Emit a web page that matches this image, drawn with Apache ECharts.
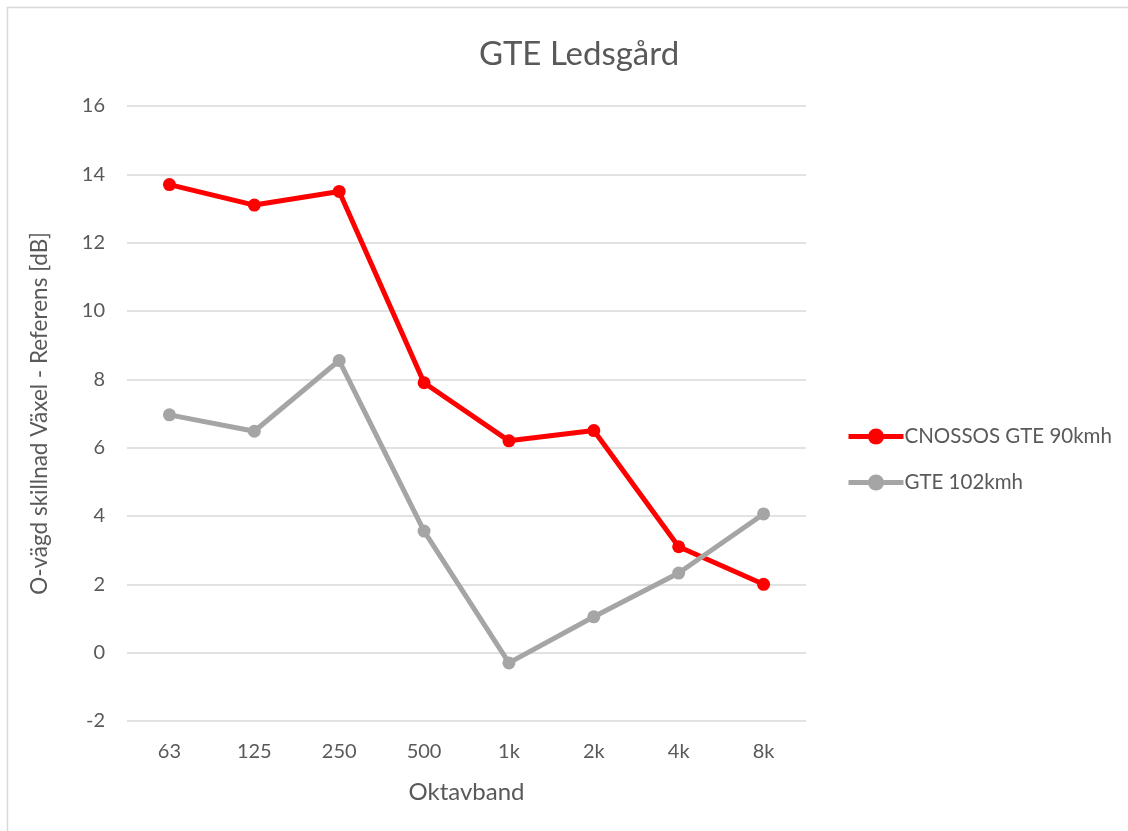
<!DOCTYPE html>
<html>
<head>
<meta charset="utf-8">
<script src="https://cdn.jsdelivr.net/npm/echarts@6/dist/echarts.min.js"></script>
<style>
  html, body { margin: 0; padding: 0; background: #fff; }
  #chart { width: 1128px; height: 831px; }
</style>
</head>
<body>
<div id="chart"></div>
<script>
// data
const bands = ['63', '125', '250', '500', '1k', '2k', '4k', '8k'];
const cnossos90 = [13.7, 13.1, 13.5, 7.9, 6.2, 6.5, 3.1, 2.0];
const gte102 = [6.96, 6.48, 8.55, 3.56, -0.3, 1.05, 2.33, 4.06];

const font = 'Lato, "Open Sans", sans-serif';
const textColor = '#595959';

const chart = echarts.init(document.getElementById('chart'));
chart.setOption({
  backgroundColor: '#fff',
  textStyle: { fontFamily: font },
  graphic: [{
    type: 'rect',
    shape: { x: 7.5, y: 7.5, width: 1200, height: 900 },
    style: { fill: 'none', stroke: '#d9d9d9', lineWidth: 1.5 },
    silent: true
  }],
  title: {
    text: 'GTE Ledsgård',
    left: 574,
    top: 33,
    textAlign: 'center',
    textStyle: { fontFamily: font, fontSize: 33, fontWeight: 'normal', color: textColor }
  },
  legend: {
    orient: 'vertical',
    left: 846,
    top: 426,
    padding: 0,
    itemGap: 25,
    itemWidth: 55,
    itemHeight: 20,
    lineStyle: { width: 5 },
    textStyle: { fontFamily: font, fontSize: 20.5, color: textColor, padding: [0, 0, 0, -4] },
    data: ['CNOSSOS GTE 90kmh', 'GTE 102kmh']
  },
  grid: { left: 127, right: 322, top: 106, bottom: 110 },
  xAxis: {
    type: 'category',
    data: bands,
    name: 'Oktavband',
    nameLocation: 'middle',
    nameGap: 59,
    nameTextStyle: { fontFamily: font, fontSize: 24, color: textColor },
    axisLine: { show: false },
    axisTick: { show: false },
    axisLabel: { fontFamily: font, fontSize: 20, color: textColor, margin: 21 }
  },
  yAxis: {
    type: 'value',
    min: -2,
    max: 16,
    interval: 2,
    name: 'O-vägd skillnad Växel - Referens [dB]',
    nameLocation: 'middle',
    nameGap: 76,
    nameTextStyle: { fontFamily: font, fontSize: 22.5, color: textColor },
    axisLabel: { fontFamily: font, fontSize: 20, color: textColor, margin: 22 },
    splitLine: { lineStyle: { color: '#d9d9d9', width: 1.5 } }
  },
  series: [
    {
      name: 'CNOSSOS GTE 90kmh',
      type: 'line',
      data: cnossos90,
      color: '#ff0000',
      lineStyle: { width: 5 },
      symbol: 'circle',
      symbolSize: 13,
      itemStyle: { color: '#ff0000' }
    },
    {
      name: 'GTE 102kmh',
      type: 'line',
      data: gte102,
      color: '#a5a5a5',
      lineStyle: { width: 5 },
      symbol: 'circle',
      symbolSize: 13,
      itemStyle: { color: '#a5a5a5' }
    }
  ]
});
</script>
</body>
</html>
